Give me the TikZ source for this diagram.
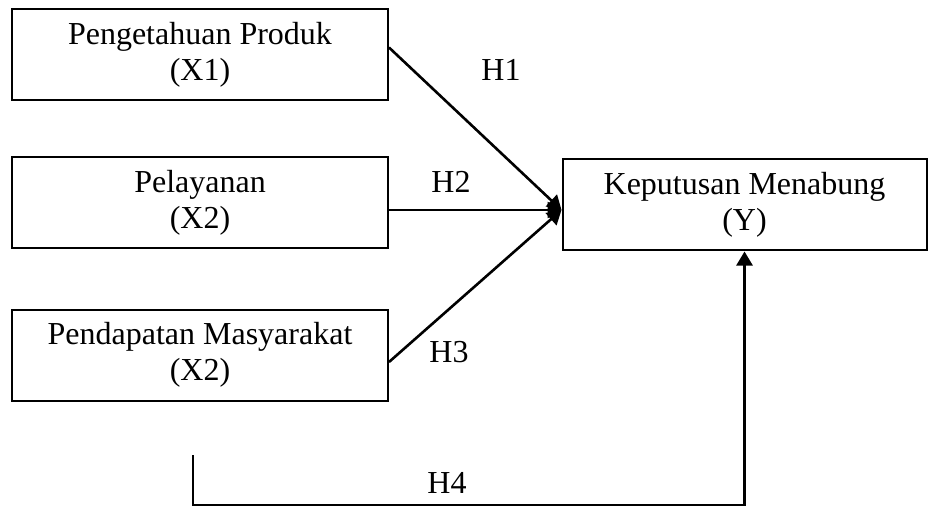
\documentclass[tikz,border=0pt]{standalone}
\usepackage{fontspec}
\setmainfont{Liberation Serif}
\usetikzlibrary{arrows.meta}

\begin{document}
\begin{tikzpicture}[x=0.5pt, y=-0.5pt,
  box/.style={draw, line width=1pt, align=center, minimum height=45.5pt,
    font=\fontsize{16}{18}\selectfont},
  hyp/.style={font=\fontsize{16}{18}\selectfont},
  link/.style={line width=1.3pt, -{Triangle[length=7pt, width=8pt]}}]
\useasboundingbox (0, 0) rectangle (929, 507);
\node[box, minimum width=188pt] (x1) at (200, 54.5) {Pengetahuan Produk\\(X1)};
\node[box, minimum width=188pt] (x2) at (200, 203) {Pelayanan\\(X2)};
\node[box, minimum width=188pt] (x3) at (200, 355) {Pendapatan Masyarakat\\(X2)};
\node[box, minimum width=182pt] (y) at (744.5, 205) {Keputusan Menabung\\(Y)};
\coordinate (tip) at ([yshift=-2.5pt]y.west);
\draw[link] ([yshift=3.5pt]x1.east) -- (tip);
\draw[link] ([yshift=-3.5pt]x2.east) -- (tip);
\draw[link] ([yshift=-3.5pt]x3.east) -- (tip);
\coordinate (h4) at (193, 455);
\draw[link] (h4) -- (193, 505) -| (y.south);
\node[hyp] (h1) at (501, 70) {H1};
\node[hyp] (h2) at (451, 182) {H2};
\node[hyp] (h3) at (449, 352) {H3};
\node[hyp] (h4label) at (447, 483) {H4};
\end{tikzpicture}
\end{document}
